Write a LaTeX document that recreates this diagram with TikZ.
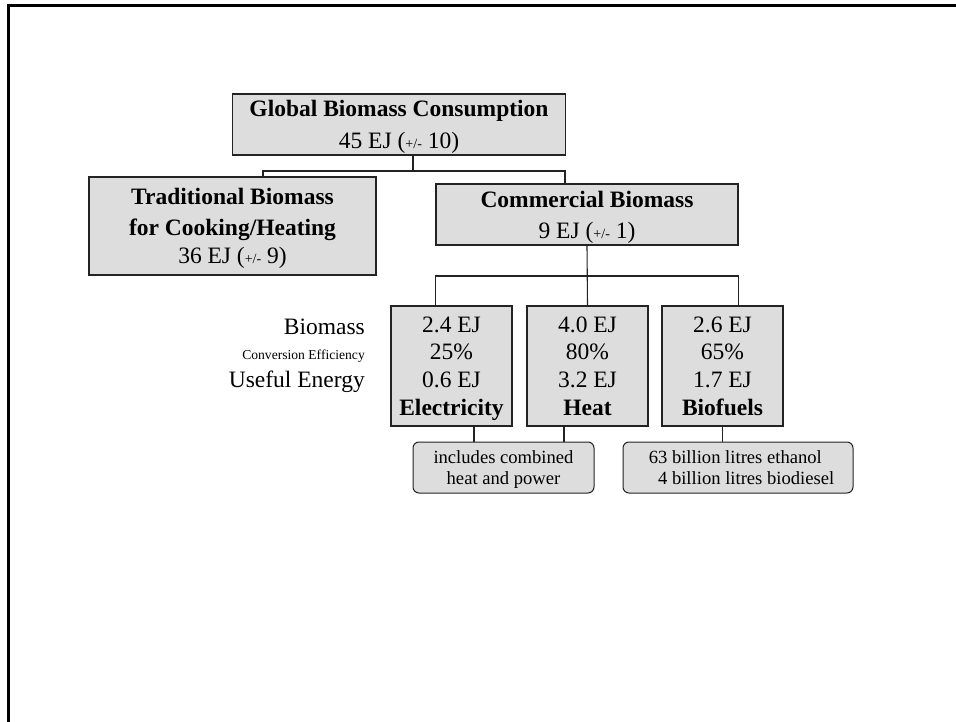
\documentclass[tikz,border=0pt]{standalone}
\usepackage{fontspec}
\setmainfont{Liberation Serif}
\usetikzlibrary{positioning,calc}
\definecolor{boxfill}{RGB}{221,221,221}
\definecolor{boxline}{RGB}{35,35,35}
\newcommand{\pmsmall}{{\fontsize{14}{14}\selectfont +/-}}

\begin{document}
\begin{tikzpicture}[x=1pt, y=-1pt,
  share/.style={draw=boxline, line width=1.3pt, fill=boxfill, align=center, inner sep=0pt, text depth=0pt, font=\fontsize{23.5}{27.8}\selectfont},
  yield/.style={share, minimum width=121pt, minimum height=120pt},
  note/.style={share, rounded corners=6pt, line width=1pt, font=\fontsize{18.6}{21.5}\selectfont},
  rowlbl/.style={anchor=base east, inner sep=0pt, font=\fontsize{23.5}{27.8}\selectfont},
  link/.style={draw=boxline, line width=1.1pt}]
  \useasboundingbox (0,0) rectangle (956,722);
  \draw[line width=2.2pt] (8.5,722) -- (8.5,5.5) -- (956,5.5);

  \node[share, minimum width=333pt, minimum height=61pt] (glob) at (399,124.5) {\textbf{Global Biomass Consumption}\\[4pt]45 EJ (\pmsmall\ 10)};
  \node[share, minimum width=287pt, minimum height=98pt] (trad) at (232.5,226) {\textbf{Traditional Biomass}\\[3pt]\textbf{for Cooking/Heating}\\36 EJ (\pmsmall\ 9)};
  \node[share, minimum width=302pt, minimum height=61pt] (comm) at (587,214.5) {\textbf{Commercial Biomass}\\[3pt]9 EJ (\pmsmall\ 1)};

  \node[yield] (elec) at (451.5,366) {2.4 EJ\\25\%\\0.6 EJ\\\textbf{Electricity}};
  \node[yield] (heat) at (587.5,366) {4.0 EJ\\80\%\\3.2 EJ\\\textbf{Heat}};
  \node[yield] (bio) at (722.5,366) {2.6 EJ\\65\%\\1.7 EJ\\\textbf{Biofuels}};

  \node[rowlbl] (lblbio) at (365,334) {Biomass};
  \node[rowlbl, font=\fontsize{13.6}{16}\selectfont] (lbleff) at (365,359) {Conversion Efficiency};
  \node[rowlbl] (lbluse) at (365,387) {Useful Energy};

  \node[note, minimum width=181pt, minimum height=51pt] (chp) at (503.5,467.5) {includes combined\\heat and power};
  \node[note, align=left, minimum width=230pt, minimum height=51pt] (fuel) at (738,467.5) {\hspace*{7pt}63 billion litres ethanol\\\hspace*{7pt}\hphantom{6}4 billion litres biodiesel};

  \coordinate (gsplit) at (413,171);
  \coordinate (tradin) at (263,171);
  \coordinate (commin) at (565,171);
  \coordinate (csplit) at (587,276);
  \coordinate (chpa) at (474,442);
  \coordinate (chpb) at (564,442);
  \draw[link] (glob.south -| gsplit) -- (gsplit);
  \draw[link] (trad.north -| tradin) -- (tradin) -- (commin) -- (comm.north -| commin);
  \draw[link] (comm.south) -- (heat.north);
  \draw[link] (elec.north -| comm.south west) -- (csplit -| comm.south west) -- (csplit -| comm.south east) -- (bio.north -| comm.south east);
  \draw[link] (elec.south -| chpa) -- (chp.north -| chpa);
  \draw[link] (heat.south -| chpb) -- (chp.north -| chpb);
  \draw[link] (bio.south) -- (fuel.north -| bio.south);
\end{tikzpicture}
\end{document}
